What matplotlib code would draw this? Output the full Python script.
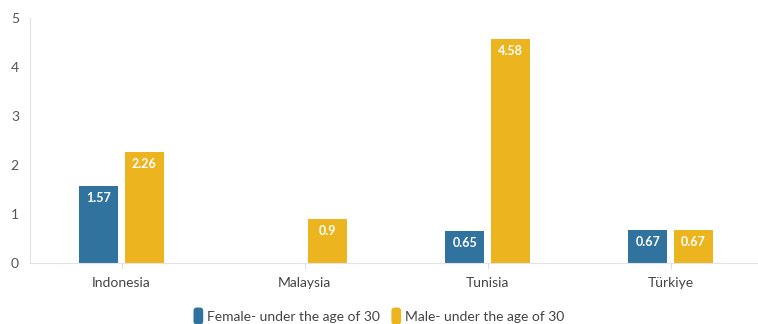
import numpy as np
import matplotlib.pyplot as plt
from matplotlib.patches import FancyBboxPatch, Patch
from matplotlib.legend_handler import HandlerPatch

countries = ['Indonesia', 'Malaysia', 'Tunisia', 'Türkiye']
female = [1.57, None, 0.65, 0.67]
male = [2.26, 0.9, 4.58, 0.67]
series_names = ['Female- under the age of 30', 'Male- under the age of 30']

blue = '#31739f'
yellow = '#ecb41f'

plt.rcParams['font.family'] = ['Lato', 'DejaVu Sans']


class RoundBox(HandlerPatch):
    # rounded legend swatch, taller than wide
    def create_artists(self, legend, orig_handle, xdescent, ydescent, width, height, fontsize, trans):
        p = FancyBboxPatch((-xdescent, -ydescent - 2), width, height + 4,
                           boxstyle='round,pad=0,rounding_size=2.5',
                           facecolor=orig_handle.get_facecolor(), edgecolor='none', transform=trans)
        return [p]


fig = plt.figure(figsize=(7.58, 3.24), dpi=100)
ax = fig.add_axes([0.0396, 0.188, 0.9657, 0.756])

x = np.arange(len(countries))
w = 0.213
off = 0.125

for vals, dx, col in [(female, -off, blue), (male, off, yellow)]:
    for i, v in enumerate(vals):
        if v is None:
            continue
        ax.bar(x[i] + dx, v, width=w, color=col)
        ax.annotate(f'{v:g}', (x[i] + dx, v), xytext=(0, -8.5), textcoords='offset points',
                    ha='center', va='center', color='white', fontsize=9, fontweight='bold')

ax.set_xlim(-0.5, 3.5)
ax.set_ylim(0, 5)
ax.set_xticks(x)
ax.set_xticklabels(countries, fontsize=10, color='#444444')
ax.set_yticks(range(6))
ax.tick_params(axis='y', length=0, labelsize=10, labelcolor='#555555', pad=8)
ax.tick_params(axis='x', length=4, color='#e0e0e0', pad=6)
for s in ['top', 'right']:
    ax.spines[s].set_visible(False)
for s in ['left', 'bottom']:
    ax.spines[s].set_color('#e3e3e3')
    ax.spines[s].set_linewidth(0.8)

handles = [Patch(facecolor=c) for c in (blue, yellow)]
fig.legend(handles, series_names, loc='lower center', bbox_to_anchor=(0.5, -0.035), ncol=2,
           frameon=False, fontsize=10, handlelength=0.7, handleheight=0.9,
           handletextpad=0.3, columnspacing=0.8, labelcolor='#444444',
           handler_map={Patch: RoundBox()})

fig.savefig('out.png', dpi=100)
